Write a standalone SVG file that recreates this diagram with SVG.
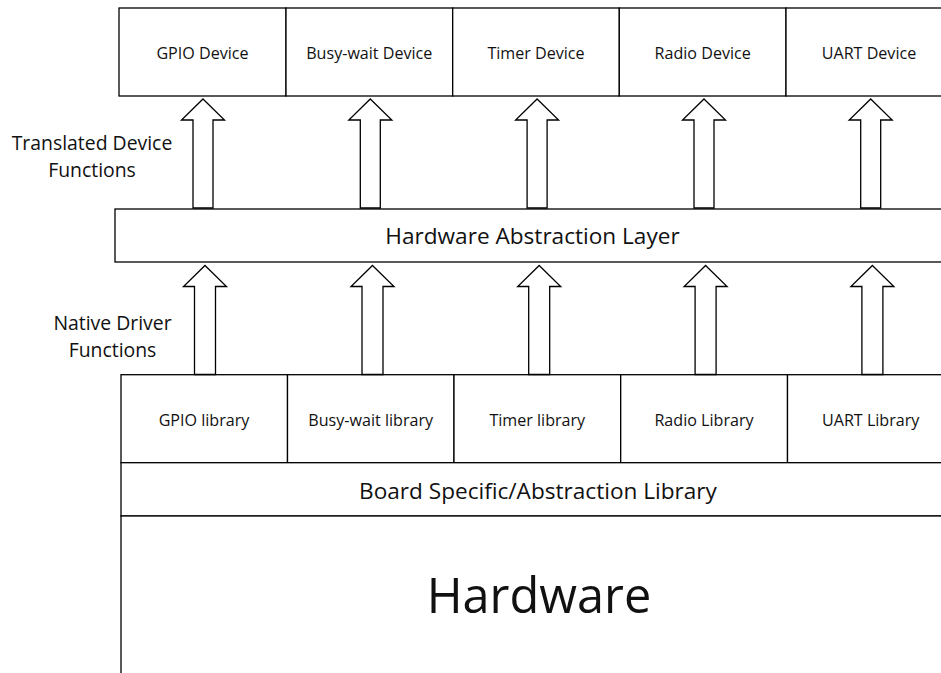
<svg xmlns="http://www.w3.org/2000/svg" width="941" height="673" viewBox="0 0 941 673">
<style>
.box{fill:#fff;stroke:#000;stroke-width:1.3}
.arr{fill:#fff;stroke:#000;stroke-width:1.3;stroke-linejoin:miter}
text{font-family:"Open Sans","Noto Sans","Liberation Sans",sans-serif;fill:#111;text-anchor:middle}
.t16{font-size:16.1px}
.t15{font-size:16.1px}
.t19{font-size:19.4px}
.t22{font-size:22.6px}
.t47{font-size:48.7px}
</style>
<defs>
<path id="upTop" d="M0,0 L21.5,21 L10,21 L10,109 L-10,109 L-10,21 L-21.5,21 Z"/>
<path id="upBot" d="M0,0 L21.5,21 L10.5,21 L10.5,109 L-10.5,109 L-10.5,21 L-21.5,21 Z"/>
</defs>
<rect width="941" height="673" fill="#fff"/>

<g id="devices">
<g id="gpio-device"><rect class="box" x="119" y="8" width="167" height="88"/><text class="t16" x="202.5" y="59">GPIO Device</text></g>
<g id="busywait-device"><rect class="box" x="286" y="8" width="166.7" height="88"/><text class="t16" x="369.3" y="59">Busy-wait Device</text></g>
<g id="timer-device"><rect class="box" x="452.7" y="8" width="166.6" height="88"/><text class="t16" x="536" y="59">Timer Device</text></g>
<g id="radio-device"><rect class="box" x="619.3" y="8" width="166.7" height="88"/><text class="t16" x="702.7" y="59">Radio Device</text></g>
<g id="uart-device"><rect class="box" x="786" y="8" width="170" height="88"/><text class="t16" x="869" y="59">UART Device</text></g>
</g>

<g id="hal"><rect class="box" x="115" y="209" width="840" height="53"/><text class="t22" x="532.5" y="244">Hardware Abstraction Layer</text></g>

<g id="libraries">
<g id="gpio-library"><rect class="box" x="121" y="374.7" width="166.5" height="88"/><text class="t15" x="204" y="425.5">GPIO library</text></g>
<g id="busywait-library"><rect class="box" x="287.5" y="374.7" width="166.5" height="88"/><text class="t15" x="370.7" y="425.5">Busy-wait library</text></g>
<g id="timer-library"><rect class="box" x="454" y="374.7" width="166.7" height="88"/><text class="t15" x="537.3" y="425.5">Timer library</text></g>
<g id="radio-library"><rect class="box" x="620.7" y="374.7" width="166.8" height="88"/><text class="t15" x="704" y="425.5">Radio Library</text></g>
<g id="uart-library"><rect class="box" x="787.5" y="374.7" width="170" height="88"/><text class="t15" x="870.7" y="425.5">UART Library</text></g>
</g>

<g id="board"><rect class="box" x="121" y="462.7" width="840" height="53.3"/><text class="t22" x="538" y="499">Board Specific/Abstraction Library</text></g>

<g id="hardware"><rect class="box" x="121" y="516" width="840" height="180"/><text class="t47" x="539" y="613">Hardware</text></g>

<g id="labels">
<text class="t19" x="92" y="150">Translated Device</text>
<text class="t19" x="92" y="177">Functions</text>
<text class="t19" x="112.5" y="330">Native Driver</text>
<text class="t19" x="112.5" y="356.5">Functions</text>
</g>

<g id="connectors">
<use href="#upTop" class="arr" x="203" y="99"/>
<use href="#upTop" class="arr" x="370.3" y="99"/>
<use href="#upTop" class="arr" x="537.1" y="99"/>
<use href="#upTop" class="arr" x="704" y="99"/>
<use href="#upTop" class="arr" x="870.7" y="99"/>
<use href="#upBot" class="arr" x="205" y="265.5"/>
<use href="#upBot" class="arr" x="372.5" y="265.5"/>
<use href="#upBot" class="arr" x="539.2" y="265.5"/>
<use href="#upBot" class="arr" x="705.6" y="265.5"/>
<use href="#upBot" class="arr" x="872.4" y="265.5"/>
</g>
</svg>
